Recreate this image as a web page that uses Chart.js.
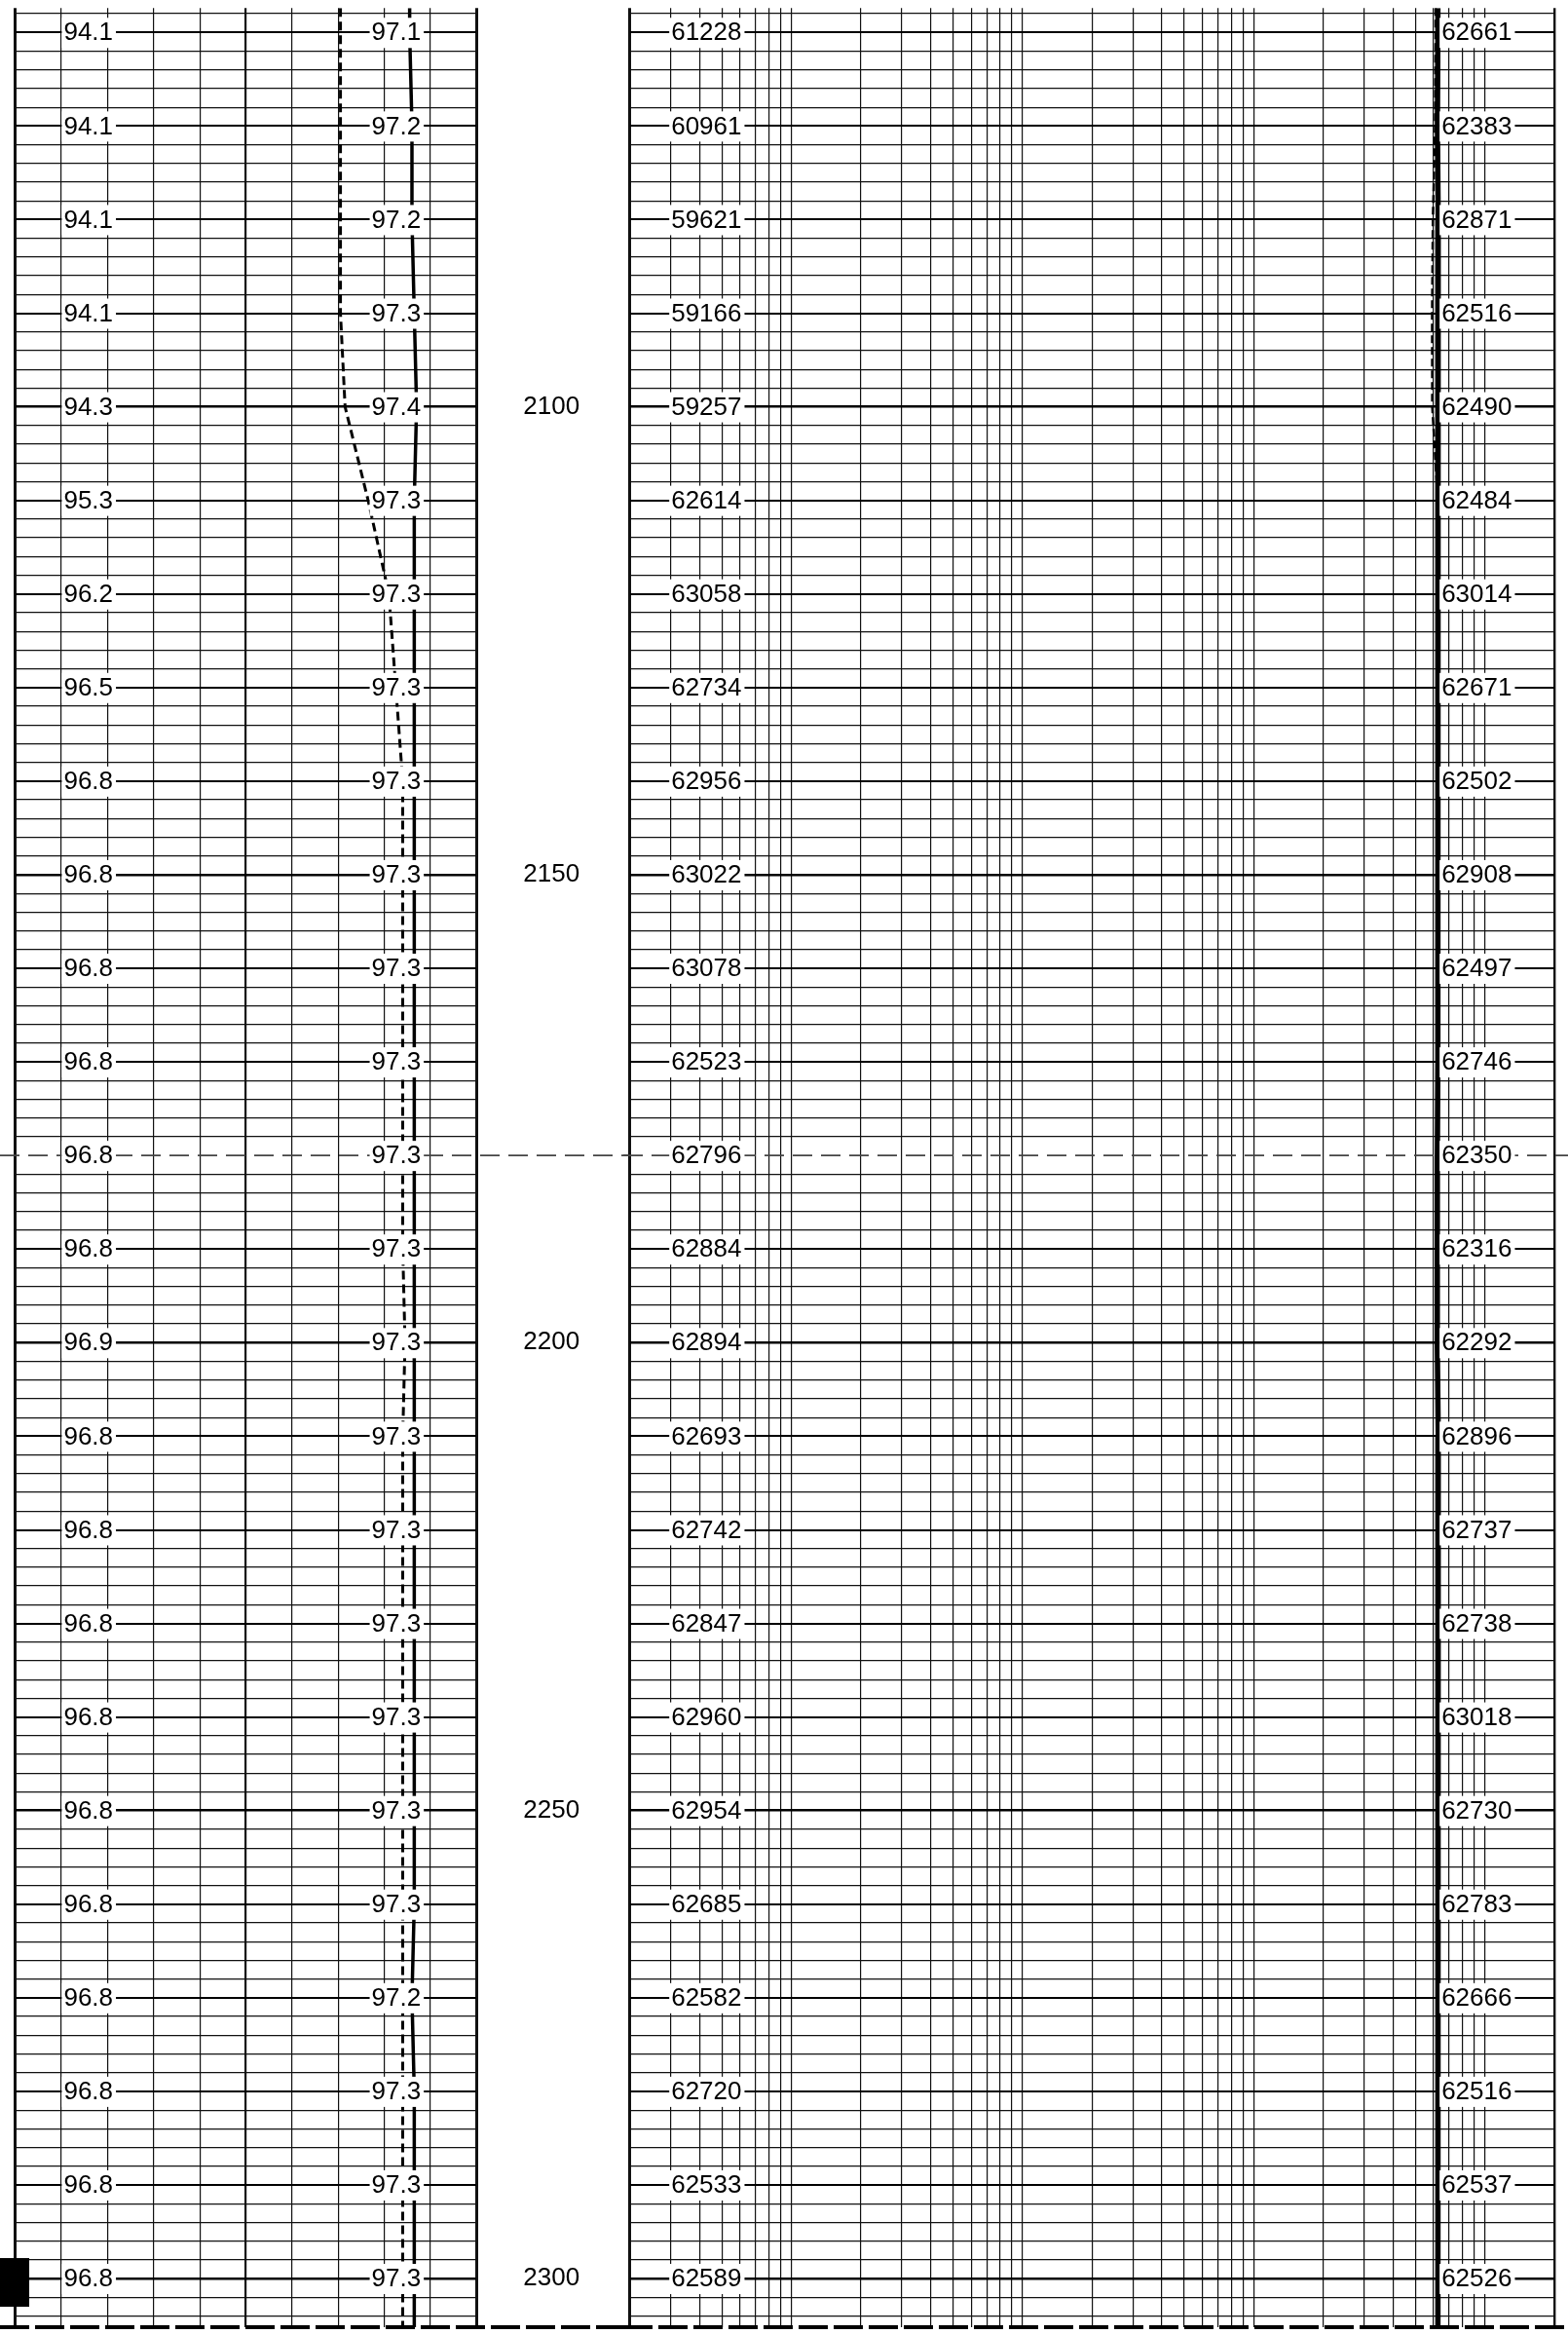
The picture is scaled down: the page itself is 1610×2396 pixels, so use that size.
<!DOCTYPE html>
<html>
<head>
<meta charset="utf-8">
<script src="https://cdn.jsdelivr.net/npm/chart.js@4.4.1/dist/chart.umd.min.js"></script>
<style>
html, body { margin: 0; padding: 0; background: #fff; }
#page { position: relative; width: 1610px; height: 2396px; overflow: hidden; background: #fff; }
#trackLeft { position: absolute; left: 0; top: 0; }
#trackRight { position: absolute; left: 640px; top: 0; }
</style>
</head>
<body>
<div id="page">
  <canvas id="trackLeft" width="647" height="2396"></canvas>
  <canvas id="trackRight" width="970" height="2396"></canvas>
</div>

<script>

// depths (m) where readings are printed on the log
var depths = [2060, 2070, 2080, 2090, 2100, 2110, 2120, 2130, 2140, 2150, 2160, 2170, 2180,
              2190, 2200, 2210, 2220, 2230, 2240, 2250, 2260, 2270, 2280, 2290, 2300]

// left track, linear 80..100
var leftDashed = [94.1, 94.1, 94.1, 94.1, 94.3, 95.3, 96.2, 96.5, 96.8, 96.8, 96.8, 96.8, 96.8,
                  96.8, 96.9, 96.8, 96.8, 96.8, 96.8, 96.8, 96.8, 96.8, 96.8, 96.8, 96.8]
var leftSolid = [97.1, 97.2, 97.2, 97.3, 97.4, 97.3, 97.3, 97.3, 97.3, 97.3, 97.3, 97.3, 97.3,
                 97.3, 97.3, 97.3, 97.3, 97.3, 97.3, 97.3, 97.3, 97.2, 97.3, 97.3, 97.3]

// right track, logarithmic 20..200000
var rightDashed = [61228, 60961, 59621, 59166, 59257, 62614, 63058, 62734, 62956, 63022, 63078, 62523, 62796,
                   62884, 62894, 62693, 62742, 62847, 62960, 62954, 62685, 62582, 62720, 62533, 62589]
var rightSolid = [62661, 62383, 62871, 62516, 62490, 62484, 63014, 62671, 62502, 62908, 62497, 62746, 62350,
                  62316, 62292, 62896, 62737, 62738, 63018, 62730, 62783, 62666, 62516, 62537, 62526]

// depth window of the sheet and the depth numbers in the middle column
var depthTop = 2057.4
var depthBottom = 2305.2
var depthLabels = [2100, 2150, 2200, 2250, 2300]
var markerDepth = 2180

var leftRange = [80, 100]
var rightRange = [20, 200000]
var logMantissas = [1, 2, 3, 4, 5, 6, 7, 8, 9]
var logDecades = [10, 100, 1000, 10000, 100000]

var FONT = '"Liberation Sans", Arial, Helvetica, sans-serif'

var logLines = []
logDecades.forEach(function (d) {
    logMantissas.forEach(function (m) {
        var v = m * d
        if (v >= rightRange[0] && v <= rightRange[1]) logLines.push(v)
    })
})

// curve runs on to the sheet edges with the first / last reading
function curve(values) {
    var pts = [{x: values[0], y: depthTop}]
    for (var i = 0; i < depths.length; i++) {
        pts.push({x: values[i], y: depths[i]})
    }
    pts.push({x: values[values.length - 1], y: depthBottom})
    return pts
}

function depthGridWidth(c) {
    var v = c.tick.value
    if (v % 50 === 0) return 2.6
    if (v % 10 === 0) return 1.9
    return 1.2
}
function depthGridColor(c) {
    var v = c.tick.value
    if (v === markerDepth) return 'rgba(0,0,0,0)'
    if (v % 10 === 0) return '#000'
    return '#111'
}

function drawLabel(ctx, text, x, y) {
    ctx.font = '26px ' + FONT
    var w = ctx.measureText(text).width
    ctx.fillStyle = '#fff'
    ctx.fillRect(x - 2, y - 15, w + 5, 31)
    ctx.fillStyle = '#000'
    ctx.textAlign = 'left'
    ctx.textBaseline = 'middle'
    ctx.fillText(text, x, y + 1)
}

function sheetPlugin(columns, isLeft) {
    return {
        id: 'sheet',
        beforeDatasetsDraw: function (chart) {
            var ctx = chart.ctx
            var y = chart.scales.y.getPixelForValue(markerDepth)
            ctx.save()
            ctx.strokeStyle = '#444'
            ctx.lineWidth = 1.6
            ctx.setLineDash([20, 9])
            ctx.beginPath()
            ctx.moveTo(0, y)
            ctx.lineTo(chart.width, y)
            ctx.stroke()
            ctx.restore()
        },
        afterDatasetsDraw: function (chart) {
            var ctx = chart.ctx
            var xs = chart.scales.x
            var ys = chart.scales.y
            ctx.save()
            columns.forEach(function (col) {
                var x = xs.getPixelForValue(col.at)
                for (var i = 0; i < depths.length; i++) {
                    drawLabel(ctx, col.values[i].toFixed(col.digits), x, ys.getPixelForValue(depths[i]))
                }
            })
            ctx.restore()
        },
        afterDraw: function (chart) {
            var ctx = chart.ctx
            var ys = chart.scales.y
            var b = chart.chartArea.bottom
            ctx.save()
            ctx.strokeStyle = '#000'
            ctx.lineWidth = 4
            ctx.setLineDash([30, 6])
            ctx.beginPath()
            ctx.moveTo(0, b)
            ctx.lineTo(chart.width, b)
            ctx.stroke()
            if (isLeft) {
                var y = ys.getPixelForValue(depthLabels[depthLabels.length - 1])
                ctx.fillStyle = '#000'
                ctx.fillRect(0, y - 21, 30, 50)
            }
            ctx.restore()
        }
    }
}

var leftChart = new Chart(document.getElementById('trackLeft').getContext('2d'), {
    type: 'line',
    data: {
        datasets: [{
            label: 'dashed',
            data: curve(leftDashed),
            borderColor: '#000',
            borderWidth: 3,
            borderDash: [9, 5]
        }, {
            label: 'solid',
            data: curve(leftSolid),
            borderColor: '#000',
            borderWidth: 3.5
        }]
    },
    options: {
        responsive: false,
        animation: false,
        events: [],
        layout: { padding: { left: 15.7, top: 8.3, bottom: 7, right: 0 } },
        elements: { point: { radius: 0 }, line: { tension: 0, borderCapStyle: 'butt' } },
        plugins: { legend: { display: false }, tooltip: { enabled: false } },
        scales: {
            x: {
                type: 'linear',
                min: leftRange[0],
                max: leftRange[1],
                ticks: { display: false, stepSize: 2 },
                grid: {
                    drawTicks: false,
                    color: '#111',
                    lineWidth: function (c) {
                        var v = c.tick.value
                        if (v === leftRange[0] || v === leftRange[1]) return 3
                        if (v === 90) return 2.2
                        return 1.2
                    }
                },
                border: { display: false }
            },
            y: {
                type: 'linear',
                position: 'right',
                reverse: true,
                min: depthTop,
                max: depthBottom,
                ticks: {
                    stepSize: 2,
                    autoSkip: false,
                    includeBounds: false,
                    crossAlign: 'center',
                    padding: 48,
                    color: '#000',
                    font: { family: FONT, size: 26 },
                    callback: function (v) {
                        return depthLabels.indexOf(v) >= 0 ? String(v) : ''
                    }
                },
                grid: { drawTicks: false, color: depthGridColor, lineWidth: depthGridWidth },
                border: { display: false },
                afterFit: function (s) {
                    s.width = 157.7
                    s.paddingTop = 0
                    s.paddingBottom = 0
                }
            }
        }
    },
    plugins: [sheetPlugin([
        { at: 82.1, values: leftDashed, digits: 1 },
        { at: 95.45, values: leftSolid, digits: 1 }
    ], true)]
})

var rightChart = new Chart(document.getElementById('trackRight').getContext('2d'), {
    type: 'line',
    data: {
        datasets: [{
            label: 'dashed',
            data: curve(rightDashed),
            borderColor: '#000',
            borderWidth: 2.5,
            borderDash: [8, 4]
        }, {
            label: 'solid',
            data: curve(rightSolid),
            borderColor: '#000',
            borderWidth: 5.5
        }]
    },
    options: {
        responsive: false,
        animation: false,
        events: [],
        layout: { padding: { left: 6.7, top: 8.3, bottom: 7, right: 14 } },
        elements: { point: { radius: 0 }, line: { tension: 0, borderCapStyle: 'butt' } },
        plugins: { legend: { display: false }, tooltip: { enabled: false } },
        scales: {
            x: {
                type: 'logarithmic',
                min: rightRange[0],
                max: rightRange[1],
                ticks: { display: false },
                afterBuildTicks: function (s) {
                    s.ticks = logLines.map(function (v) { return { value: v } })
                },
                grid: {
                    drawTicks: false,
                    color: '#111',
                    lineWidth: function (c) {
                        var v = c.tick.value
                        if (v === rightRange[0]) return 3
                        if (v === rightRange[1]) return 2.4
                        return 1.2
                    }
                },
                border: { display: false }
            },
            y: {
                type: 'linear',
                position: 'left',
                reverse: true,
                min: depthTop,
                max: depthBottom,
                ticks: { display: false, stepSize: 2, autoSkip: false, includeBounds: false },
                grid: { drawTicks: false, color: depthGridColor, lineWidth: depthGridWidth },
                border: { display: false }
            }
        }
    },
    plugins: [sheetPlugin([
        { at: 30.2, values: rightDashed, digits: 0 },
        { at: 65000, values: rightSolid, digits: 0 }
    ], false)]
})

</script>
</body>
</html>
